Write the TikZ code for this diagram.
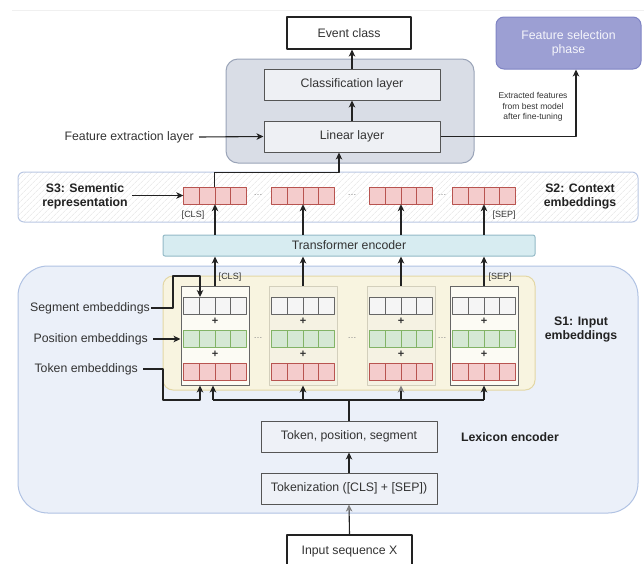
\documentclass[tikz,border=0pt]{standalone}
\usepackage{fontspec}
\setmainfont{Liberation Sans}
\usetikzlibrary{arrows.meta,patterns.meta}
\definecolor{ink}{HTML}{222222}
\definecolor{txt}{HTML}{333333}
\definecolor{headfill}{HTML}{D9DDE6}
\definecolor{headline}{HTML}{9AA4B8}
\definecolor{layfill}{HTML}{EEF0F4}
\definecolor{layline}{HTML}{555555}
\definecolor{fsfill}{HTML}{9C9FD3}
\definecolor{fsline}{HTML}{7F84C4}
\definecolor{bandline}{HTML}{B9C7E3}
\definecolor{redfill}{HTML}{F4CCCC}
\definecolor{redline}{HTML}{B85450}
\definecolor{grnfill}{HTML}{D5E8D4}
\definecolor{grnline}{HTML}{82B366}
\definecolor{segfill}{HTML}{F5F5F5}
\definecolor{segline}{HTML}{666666}
\definecolor{trffill}{HTML}{D7ECF1}
\definecolor{trfline}{HTML}{92B9C6}
\definecolor{sonefill}{HTML}{EBF0F9}
\definecolor{soneline}{HTML}{B0C2E3}
\definecolor{ylwfill}{HTML}{F8F4E0}
\definecolor{ylwline}{HTML}{E3D7A5}
\definecolor{colfill}{HTML}{FCFBF4}
\definecolor{palefill}{HTML}{F5F2E3}
\definecolor{paleline}{HTML}{D3CFBC}
\definecolor{encfill}{HTML}{EEF1F7}
\newcommand\bigtxt{\fontsize{12.3}{14}\selectfont}
\newcommand\smalltxt{\fontsize{9}{10.5}\selectfont}
\newcommand\tinytxt{\fontsize{8.5}{10.5}\selectfont}
\newcommand\cellrow[4]{\foreach \i in {0,...,3} \draw[fill=#3, draw=#4, line width=0.9pt] (#1+\i*15.75,#2) rectangle ++(15.75,17);}
\begin{document}
\begin{tikzpicture}[x=1pt, y=-1pt, line join=round, >={Stealth[length=7pt,width=6.5pt,inset=2pt]},
	arr/.style={->, ink, line width=1.1pt},
	wire/.style={ink, line width=1.1pt},
	grayhead/.style={ink, line width=1.1pt, -{Stealth[length=7pt,width=6.5pt,inset=2pt,gray]}},
	layer/.style={draw=layline, fill=layfill, line width=1pt, minimum width=176pt, minimum height=31pt, inner sep=0pt, font=\bigtxt, text=txt},
	enc/.style={layer, fill=encfill},
	plain/.style={draw=ink, fill=white, line width=1.1pt, inner sep=0pt, font=\bigtxt, text=txt},
	lbl/.style={font=\bigtxt, text=txt, inner sep=0pt},
	bold/.style={font=\bigtxt\bfseries, text=ink, align=center, inner sep=0pt},
	tag/.style={font=\smalltxt, text=txt, inner sep=0pt},
	dots/.style={font=\smalltxt, text=gray, inner sep=0pt},
	plus/.style={font=\fontsize{11}{12}\selectfont\bfseries, text=txt, inner sep=0pt},
	colbox/.style={minimum width=68pt, minimum height=99pt, inner sep=0pt, line width=1pt},
	coldark/.style={colbox, draw=segline, fill=colfill},
	colfaint/.style={colbox, draw=paleline, fill=palefill}]
	\useasboundingbox (0,0) rectangle (644,563);
	\clip (0,0) rectangle (644,563);
	\draw[gray!12, line width=1pt] (12,10)--(644,10);
	\draw[headline, fill=headfill, rounded corners=12pt, line width=1pt] (226,59) rectangle (474,163);
	\node[layer] (cls) at (352,84.5) {Classification layer};
	\node[layer] (lin) at (352,136.5) {Linear layer};
	\node[plain, minimum width=124pt, minimum height=32pt] (evt) at (349,33) {Event class};
	\node[draw=fsline, fill=fsfill, rounded corners=8pt, minimum width=145pt, minimum height=52pt, align=center, font=\bigtxt, text=white!90!fsfill, line width=1pt] (fsp) at (568.5,43) {Feature selection\\phase};
	\node[lbl, anchor=east] (fel) at (194,137) {Feature extraction layer};
	\node[font=\tinytxt, text=txt, align=center, inner sep=0pt] (exlbl) at (533,107) {Extracted features\\from best model\\after fine-tuning};
	\draw[bandline, line width=1pt, rounded corners=6pt, preaction={fill=white}, pattern={Lines[angle=45,distance=4pt,line width=0.5pt]}, pattern color=gray!22] (18,172) rectangle (638,222);
	\foreach \n/\cx in {1/215,2/303,3/401,4/484}{
		\node[minimum width=63pt, minimum height=17pt, inner sep=0pt] (ctx\n) at (\cx,195.5) {};
		\cellrow{\cx-31.5}{187}{redfill}{redline}
	}
	\node[bold] (s3lbl) at (85,196) {S3: Sementic\\representation};
	\node[bold] (s2lbl) at (580,197) {S2: Context\\embeddings};
	\node[tag] (ctxcls) at (193,215) {[CLS]};
	\node[tag] (ctxsep) at (504,215) {[SEP]};
	\node[draw=trfline, fill=trffill, rounded corners=2pt, minimum width=372pt, minimum height=21pt, inner sep=0pt, font=\bigtxt, text=txt, line width=1pt] (trf) at (349,245.5) {Transformer encoder};
	\draw[soneline, fill=sonefill, rounded corners=30pt, line width=1pt] (18,266) rectangle (638,513);
	\draw[ylwline, fill=ylwfill, rounded corners=10pt, line width=1pt] (163,276) rectangle (535,390);
	\foreach \n/\cx/\st in {1/215/coldark,2/303/colfaint,3/401/colfaint,4/484/coldark}{
		\node[\st] (col\n) at (\cx,335.5) {};
		\cellrow{\cx-31.5}{297}{segfill}{segline}
		\node[plus] (plusa\n) at (\cx,321) {+};
		\cellrow{\cx-31.5}{330}{grnfill}{grnline}
		\node[plus] (plusb\n) at (\cx,354) {+};
		\cellrow{\cx-31.5}{363}{redfill}{redline}
	}
	\foreach \n/\dx in {1/258,2/352,3/442}{
		\node[dots] (cdots\n) at (\dx,195) {\ldots};
		\node[dots] (idots\n) at (\dx,338) {\ldots};
	}
	\node[tag] (incls) at (230,277) {[CLS]};
	\node[tag] (insep) at (500,277) {[SEP]};
	\node[lbl, anchor=east] (seglbl) at (150,308) {Segment embeddings};
	\node[lbl, anchor=east] (poslbl) at (148,339) {Position embeddings};
	\node[lbl, anchor=east] (toklbl) at (138,369) {Token embeddings};
	\node[bold] (s1lbl) at (581,329) {S1: Input\\embeddings};
	\node[enc] (tps) at (349,436.5) {Token, position, segment};
	\node[enc] (tkz) at (349,488.5) {Tokenization ([CLS] + [SEP])};
	\node[bold] (lexlbl) at (510,437) {Lexicon encoder};
	\node[plain, minimum width=125pt, minimum height=34pt] (inp) at (349.5,552) {Input sequence X};
	\coordinate (segin) at (200,297);
	\coordinate (busL) at (213,400);
	\draw[arr] (cls.north)--(cls.north |- evt.south);
	\draw[arr] (lin.north)--(cls.south);
	\draw[arr] ([xshift=5pt]fel.east)--(lin.west);
	\draw[arr] (lin.east) -| ([xshift=7.5pt]fsp.south);
	\draw[arr] ([xshift=-0.5pt]ctx1.north)--++(0,-14) -| ([xshift=-13pt]lin.south);
	\draw[arr] ([xshift=4pt]s3lbl.east |- ctx1.west)--(ctx1.west);
	\foreach \n in {1,...,4}{
		\draw[arr] (trf.north -| ctx\n)--(ctx\n.south);
		\draw[arr] (col\n.north)--(col\n.north |- trf.south);
	}
	\draw[arr] ([xshift=1pt]seglbl.east) -| (173,276) -| (segin);
	\draw[arr] ([xshift=5pt]poslbl.east)--(poslbl.east -| col1.west);
	\draw[arr] ([xshift=5pt]toklbl.east) -| (163,400) -| ([xshift=-15pt]col1.south);
	\draw[wire] (tps.north)--(tps.north |- busL);
	\draw[wire] (busL)--(busL -| col4.south);
	\draw[arr] (busL)--(busL |- col1.south);
	\draw[arr] (busL -| col2.south)--(col2.south);
	\draw[grayhead] (busL -| col3.south)--(col3.south);
	\draw[arr] (busL -| col4.south)--(col4.south);
	\draw[arr] (tkz.north)--(tps.south);
	\draw[grayhead] (inp.north)--(tkz.south);
\end{tikzpicture}
\end{document}
